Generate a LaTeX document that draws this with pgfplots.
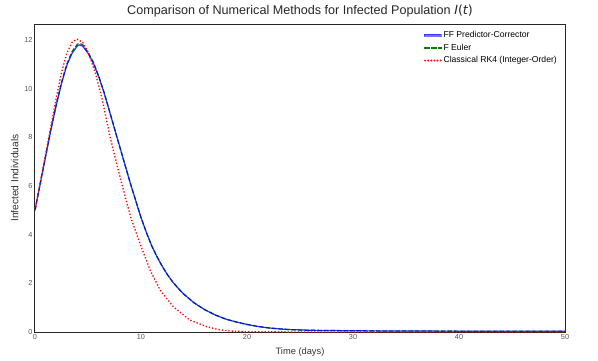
\documentclass[border=0pt]{standalone}
\usepackage{pgfplots}
\pgfplotsset{compat=1.18}
\usepackage{fontspec}
\setmainfont{Liberation Sans}
\newfontfamily\djv{DejaVu Sans}
\usetikzlibrary{calc}

\definecolor{ffblue}{HTML}{0000FF}
\definecolor{eulgreen}{HTML}{008000}
\definecolor{rkred}{HTML}{FF0000}
\definecolor{ticklab}{HTML}{555555}

% FF predictor-corrector
\pgfplotstableread{
t I
0 5.0
0.5 6.1
1.0 7.2
1.5 8.3
2.0 9.3
2.5 10.2
3.0 10.95
3.5 11.45
4.0 11.75
4.2 11.79
4.5 11.74
5.0 11.45
5.5 11.05
6.0 10.5
6.5 9.85
7.0 9.1
7.5 8.35
8.0 7.6
8.5 6.85
9.0 6.1
9.5 5.4
10.0 4.7
10.5 4.1
11.0 3.55
11.5 3.1
12.0 2.7
12.5 2.35
13.0 2.05
13.5 1.8
14.0 1.57
15.0 1.2
16.0 0.92
17.0 0.7
18.0 0.53
19.0 0.41
20.0 0.31
21.0 0.23
22.0 0.17
23.0 0.13
24.0 0.10
26.0 0.07
30.0 0.05
35.0 0.04
40.0 0.035
45.0 0.03
50.0 0.03
}\ffpc

% F Euler
\pgfplotstableread{
t I
0 5.0
0.5 6.12
1.0 7.23
1.5 8.33
2.0 9.34
2.5 10.25
3.0 11.0
3.5 11.52
4.0 11.82
4.2 11.85
4.5 11.8
5.0 11.5
5.5 11.08
6.0 10.52
6.5 9.87
7.0 9.12
7.5 8.36
8.0 7.6
8.5 6.85
9.0 6.1
9.5 5.4
10.0 4.7
10.5 4.1
11.0 3.55
11.5 3.1
12.0 2.7
12.5 2.35
13.0 2.05
13.5 1.8
14.0 1.57
15.0 1.2
16.0 0.92
17.0 0.7
18.0 0.53
19.0 0.41
20.0 0.31
21.0 0.23
22.0 0.17
23.0 0.13
24.0 0.10
26.0 0.07
30.0 0.05
35.0 0.04
40.0 0.035
45.0 0.03
50.0 0.03
}\feuler

% classical RK4
\pgfplotstableread{
t I
0 5.0
0.5 6.15
1.0 7.3
1.5 8.45
2.0 9.6
2.5 10.65
3.0 11.45
3.5 11.9
3.95 12.03
4.5 11.9
5.0 11.5
5.66 10.69
6.29 9.66
7.08 8.02
7.6 7.1
8.18 6.1
9.06 4.67
9.9 3.64
10.85 2.55
11.8 1.72
13.05 1.04
14.6 0.49
16.2 0.22
17.3 0.1
18.4 0.04
20.0 0.012
25.0 0.002
30.0 0.0
50.0 0.0
}\rkfour

\begin{document}
\begin{tikzpicture}
\begin{axis}[
  name=ax,
  scale only axis,
  width=530pt, height=308pt,
  xmin=0, xmax=50, ymin=0, ymax=12.65,
  xtick={0,10,20,30,40,50},
  ytick={0,2,4,6,8,10,12},
  major tick length=0pt,
  axis line style={black!85, line width=1pt},
  tick label style={font=\fontsize{7.3}{8}\selectfont, text=ticklab},
  /pgf/number format/assume math mode=true,
  xticklabel style={yshift=1pt},
  yticklabel style={xshift=1pt},
  xlabel={Time (days)},
  ylabel={Infected Individuals},
  xlabel style={font=\fontsize{9.3}{11}\selectfont, text=black!80, yshift=-1pt},
  ylabel style={font=\fontsize{10.2}{12}\selectfont, text=black!80, yshift=-1pt},
  title={Comparison of Numerical Methods for Infected Population {\djv\itshape I}{\djv(}{\djv\itshape t}{\djv)}},
  title style={font=\fontsize{12.6}{14}\selectfont, text=black!85, yshift=-3pt},
  legend style={draw=none, fill=none, at={(1,1)}, anchor=north east,
    xshift=-3pt, yshift=-3pt, font=\fontsize{8.6}{10}\selectfont,
    row sep=1pt},
  legend cell align=left,
  clip=true,
]
\addlegendimage{legend image code/.code={\fill[ffblue, opacity=0.55] (-4pt,-0.7pt) rectangle (13pt,0.7pt);}}
\addlegendentry{FF Predictor-Corrector}
\addlegendimage{legend image code/.code={\fill[eulgreen] (-4pt,-0.7pt) rectangle (1pt,0.7pt);
  \fill[eulgreen] (3.2pt,-0.7pt) rectangle (8.2pt,0.7pt);
  \fill[eulgreen] (10.4pt,-0.7pt) rectangle (13pt,0.7pt);}}
\addlegendentry{F Euler}
\addlegendimage{legend image code/.code={\foreach \k in {0,...,5}{\fill[rkred] (-3pt+\k*3.1pt,0pt) circle (0.75pt);}}}
\addlegendentry{Classical RK4 (Integer-Order)}
\addplot[color=eulgreen, line width=1.3pt, dash pattern=on 4.5pt off 2pt, forget plot] table[x=t,y=I] {\feuler};
\addplot[color=ffblue, opacity=0.8, line width=1.2pt, forget plot] table[x=t,y=I] {\ffpc};
\addplot[color=rkred, line width=1.3pt, dash pattern=on 1.3pt off 2pt, forget plot] table[x=t,y=I] {\rkfour};
\end{axis}
\pgfresetboundingbox
\path ($(ax.south west)+(-35pt,-28pt)$) rectangle ($(ax.north east)+(33pt,24pt)$);
\end{tikzpicture}
\end{document}
